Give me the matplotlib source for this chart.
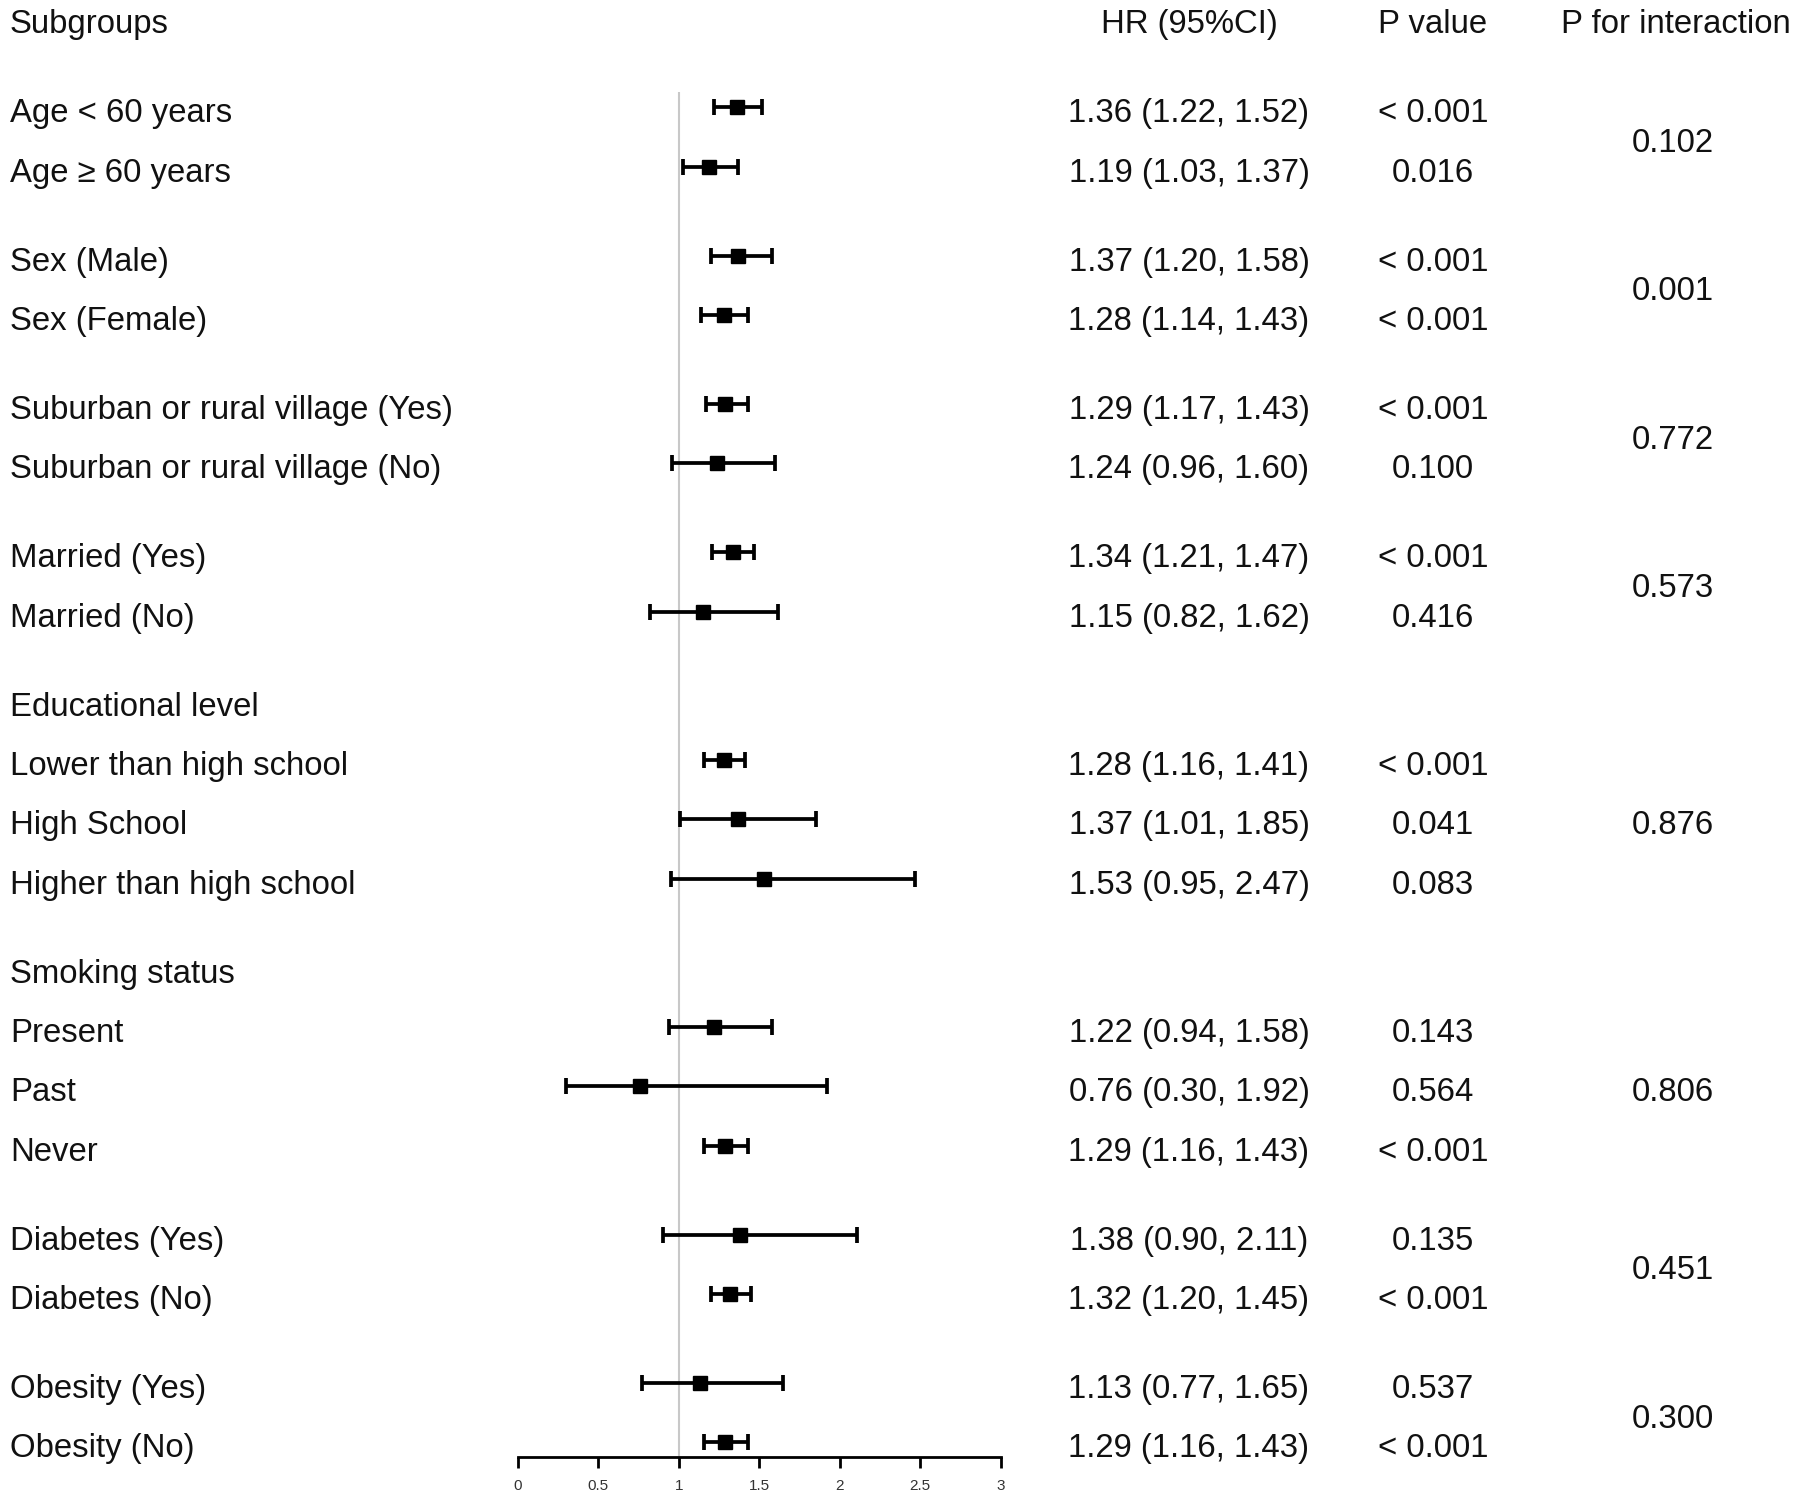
import numpy as np
import matplotlib.pyplot as plt
from matplotlib.transforms import blended_transform_factory

plt.rcParams['font.family'] = ['Liberation Sans', 'DejaVu Sans']

# group structure
groups = ["Age", "Sex", "Residence", "Married", "Education", "Smoking", "Diabetes", "Obesity"]
group_headers = [None, None, None, None, "Educational level", "Smoking status", None, None]
group_sizes = [2, 2, 2, 2, 3, 3, 2, 2]
p_interaction = ["0.102", "0.001", "0.772", "0.573", "0.876", "0.806", "0.451", "0.300"]

subgroups = ["Age < 60 years", "Age \u2265 60 years",
             "Sex (Male)", "Sex (Female)",
             "Suburban or rural village (Yes)", "Suburban or rural village (No)",
             "Married (Yes)", "Married (No)",
             "Lower than high school", "High School", "Higher than high school",
             "Present", "Past", "Never",
             "Diabetes (Yes)", "Diabetes (No)",
             "Obesity (Yes)", "Obesity (No)"]
hr = [1.36, 1.19, 1.37, 1.28, 1.29, 1.24, 1.34, 1.15, 1.28, 1.37, 1.53, 1.22, 0.76, 1.29, 1.38, 1.32, 1.13, 1.29]
lo = [1.22, 1.03, 1.20, 1.14, 1.17, 0.96, 1.21, 0.82, 1.16, 1.01, 0.95, 0.94, 0.30, 1.16, 0.90, 1.20, 0.77, 1.16]
hi = [1.52, 1.37, 1.58, 1.43, 1.43, 1.60, 1.47, 1.62, 1.41, 1.85, 2.47, 1.58, 1.92, 1.43, 2.11, 1.45, 1.65, 1.43]
p_value = ["< 0.001", "0.016", "< 0.001", "< 0.001", "< 0.001", "0.100", "< 0.001", "0.416",
           "< 0.001", "0.041", "0.083", "0.143", "0.564", "< 0.001", "0.135", "< 0.001",
           "0.537", "< 0.001"]
xticks = [0, 0.5, 1, 1.5, 2, 2.5, 3]
xtick_labels = ["0", "0.5", "1", "1.5", "2", "2.5", "3"]

# row positions: half a row extra between groups
ypos, header_y, group_mid = [], [], []
y = 0.0
for g in range(len(groups)):
    if g > 0:
        y += 0.5
    if group_headers[g] is not None:
        header_y.append(y)
        y += 1
    else:
        header_y.append(None)
    rows = []
    for k in range(group_sizes[g]):
        rows.append(y)
        y += 1
    ypos.extend(rows)
    group_mid.append(np.mean(rows))
ypos = np.array(ypos)

W, H = 1796, 1501
fig = plt.figure(figsize=(W / 100, H / 100), dpi=100)
ax = fig.add_axes([517.6 / W, 44 / H, 483.1 / W, 1 - 44 / H])
ax.set_xlim(0, 3)
ax.set_ylim(22.70, -1.857)

ax.vlines(1, -0.31, 22.70, color="#c8c8c8", lw=1.5, zorder=1)
ax.errorbar(hr, ypos - 0.05, xerr=[np.array(hr) - np.array(lo), np.array(hi) - np.array(hr)],
            fmt="s", color="black", ms=10.5, lw=2.7, capsize=5.5, capthick=2.7, zorder=3)

for s in ["top", "right", "left"]:
    ax.spines[s].set_visible(False)
ax.spines["bottom"].set_bounds(0, 3)
ax.spines["bottom"].set_linewidth(2)
ax.set_yticks([])
ax.set_xticks(xticks)
ax.set_xticklabels(xtick_labels, fontsize=11, color="#333333")
ax.tick_params(axis="x", length=8, width=2, pad=8)

tr = blended_transform_factory(fig.transFigure, ax.transData)
fs = 23.7
col = "#111111"
dy = 0.06
x_left = 10 / W
x_hr = 1189 / W
x_p = 1433 / W
x_int = 1673 / W

ax.text(x_left, -1.5 + dy, "Subgroups", transform=tr, fontsize=fs, color=col, va="center", ha="left")
ax.text(x_hr, -1.5 + dy, "HR (95%CI)", transform=tr, fontsize=fs, color=col, va="center", ha="center")
ax.text(x_p, -1.5 + dy, "P value", transform=tr, fontsize=fs, color=col, va="center", ha="center")
ax.text(1676 / W, -1.5 + dy, "P for interaction", transform=tr, fontsize=fs, color=col, va="center", ha="center")

for i, lab in enumerate(subgroups):
    ax.text(x_left, ypos[i] + dy, lab, transform=tr, fontsize=fs, color=col, va="center", ha="left")
    ax.text(x_hr, ypos[i] + dy, f"{hr[i]:.2f} ({lo[i]:.2f}, {hi[i]:.2f})", transform=tr,
            fontsize=fs, color=col, va="center", ha="center")
    ax.text(x_p, ypos[i] + dy, p_value[i], transform=tr, fontsize=fs, color=col, va="center", ha="center")

for g in range(len(groups)):
    if header_y[g] is not None:
        ax.text(x_left, header_y[g] + dy, group_headers[g], transform=tr, fontsize=fs, color=col,
                va="center", ha="left")
    ax.text(x_int, group_mid[g] + dy, p_interaction[g], transform=tr, fontsize=fs, color=col,
            va="center", ha="center")

fig.savefig("out.png", dpi=100)
